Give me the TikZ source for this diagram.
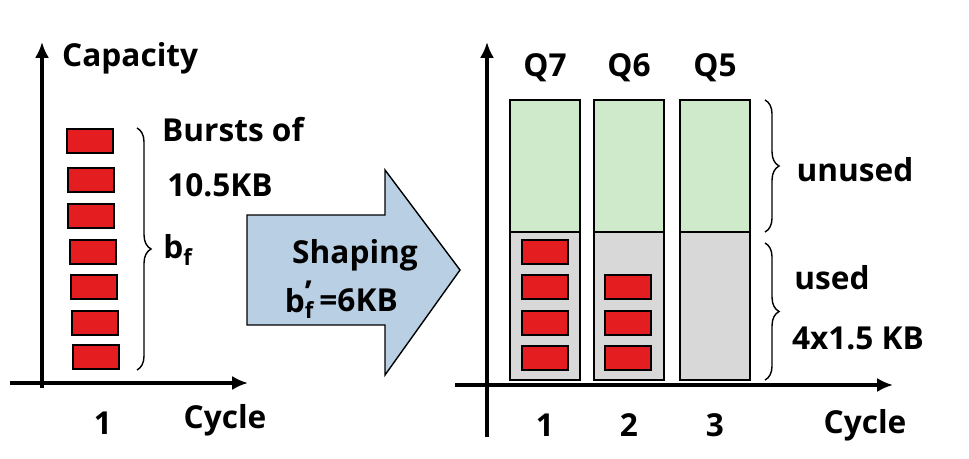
\documentclass[tikz,border=0pt]{standalone}
\usepackage{fontspec}
\setmainfont{Open Sans}
\usetikzlibrary{positioning,decorations.pathreplacing,arrows.meta}
\definecolor{pktred}{RGB}{228,30,32}
\definecolor{freegreen}{RGB}{206,234,202}
\definecolor{usedgray}{RGB}{216,216,216}
\definecolor{arrowblue}{RGB}{185,208,228}
\begin{document}
\begin{tikzpicture}[x=0.02cm,y=-0.02cm]
		\tikzset{pkt/.style={draw=black, line width=1.2pt, fill=pktred, minimum width=0.92cm, minimum height=0.48cm, inner sep=0pt},
			axis/.style={line width=1.8pt, -{Latex[length=9pt,width=8pt]}},
			lbl/.style={font=\bfseries\fontsize{18}{20}\selectfont},
			brc/.style={thick, decorate, decoration={brace, amplitude=8pt}}};

		\useasboundingbox (0,0) rectangle (969,459);

		% left chart
		\coordinate (lo) at (42,388);
		\coordinate (ltop) at (42,42);
		\coordinate (lleft) at (10,383);
		\coordinate (lright) at (248,383);
		\draw[axis] (lo) -- (ltop);
		\draw[axis] (lleft) -- (lright);
		\node[lbl, anchor=west] (cap) at (56,58) {Capacity};
		\node[lbl] (l1) at (103,423) {1};
		\node[lbl] (lcyc) at (225,420) {Cycle};

		\node[pkt] (p1) at (90,141) {};
		\node[pkt] (p2) at (91,180) {};
		\node[pkt] (p3) at (91,216) {};
		\node[pkt] (p4) at (93,252) {};
		\node[pkt] (p5) at (94,287) {};
		\node[pkt] (p6) at (95,323) {};
		\node[pkt] (p7) at (96,357) {};

		\coordinate (bt) at (137,128);
		\coordinate (bb) at (137,370);
		\draw[brc] (bt) -- (bb);
		\node[lbl] (bf) at (178,250) {b\textsubscript{f}};
		\node[lbl, anchor=west] (burst) at (156,130) {Bursts of};
		\node[lbl] (size) at (220,185) {10.5KB};

		% shaping arrow
		\draw[thick, fill=arrowblue] (247,215) -- (385,215) -- (385,170) -- (460,270) -- (385,375) -- (385,325) -- (247,325) -- cycle;
		\node[lbl] (shp) at (355,255) {Shaping};
		\node[lbl, anchor=east, inner sep=0pt] (bfp) at (312,300) {b\textsubscript{f}\kern-0.3em\raisebox{0.5ex}{\textquoteright}};
		\node[lbl, anchor=west, inner sep=0pt] (bval) at ([xshift=4pt]bfp.east) {=6KB};

		% right chart
		\coordinate (ro) at (487,437);
		\coordinate (rtop) at (487,42);
		\coordinate (rleft) at (455,385);
		\coordinate (rright) at (893,385);
		\draw[axis] (ro) -- (rtop);
		\draw[axis] (rleft) -- (rright);

		\foreach \x/\q/\n in {510/Q7/1, 594/Q6/2, 680/Q5/3} {
			\draw[line width=1.4pt, fill=freegreen] (\x,100) rectangle +(70,132);
			\draw[line width=1.4pt, fill=usedgray] (\x,232) rectangle +(70,148);
			\node[lbl] (q\n) at (\x+35,68) {\q};
			\node[lbl] (c\n) at (\x+35,425) {\n};
		}
		\node[lbl] (rcyc) at (865,425) {Cycle};

		\node[pkt] (r1) at (545,252) {};
		\node[pkt] (r2) at (545,287) {};
		\node[pkt] (r3) at (545,323) {};
		\node[pkt] (r4) at (545,358) {};
		\node[pkt] (s1) at (628,287) {};
		\node[pkt] (s2) at (628,323) {};
		\node[pkt] (s3) at (628,358) {};

		\coordinate (ut) at (765,100);
		\coordinate (ub) at (765,232);
		\coordinate (dt) at (765,243);
		\coordinate (db) at (765,380);
		\draw[brc] (ut) -- (ub);
		\draw[brc] (dt) -- (db);
		\node[lbl] (unused) at (855,170) {unused};
		\node[lbl] (used) at (832,278) {used};
		\node[lbl] (amt) at (858,338) {4x1.5 KB};
	\end{tikzpicture}
\end{document}
